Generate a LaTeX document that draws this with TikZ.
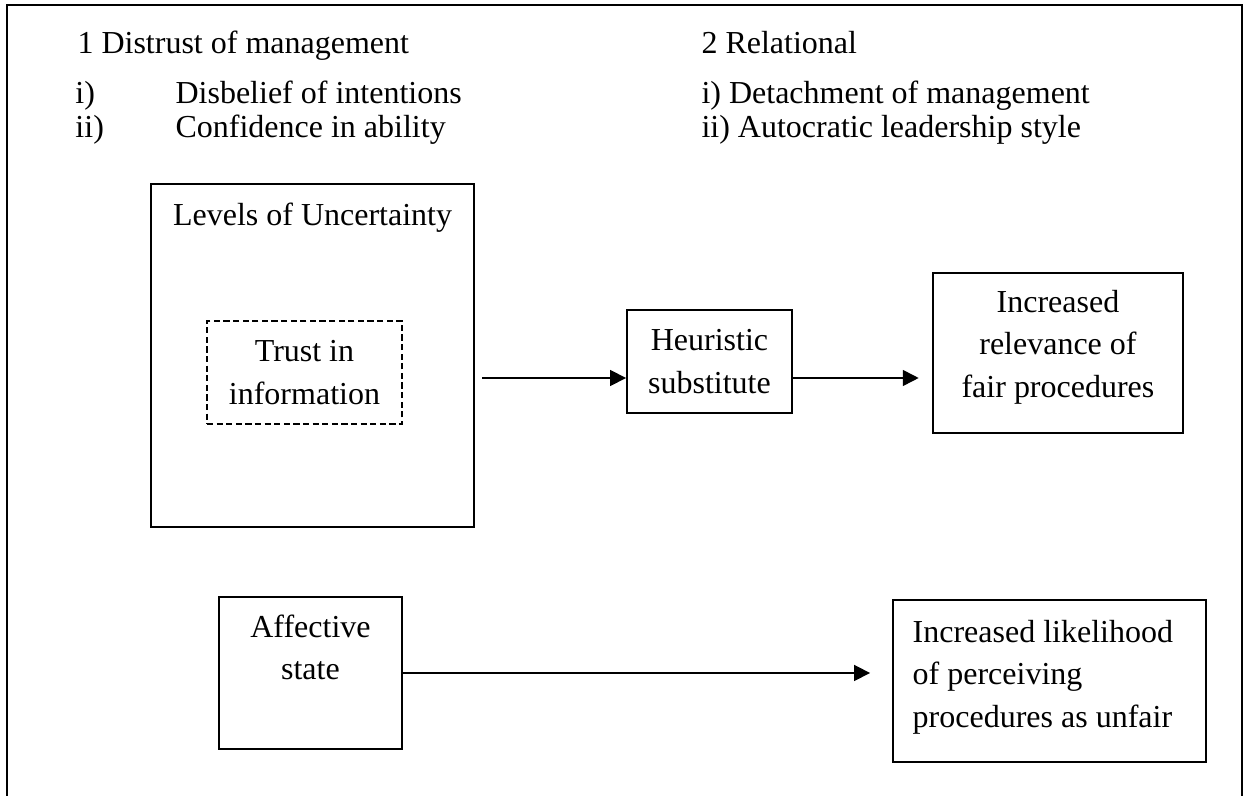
\documentclass[tikz,border=0pt]{standalone}
\usepackage{fontspec}
\setmainfont{Liberation Serif}
\usetikzlibrary{arrows.meta,positioning}
\tikzset{
    %Define standard arrow tip
    >={Triangle[length=6pt,width=5.8pt]},
    every node/.style={font=\fontsize{12}{16}\selectfont},
    %Define style for boxes
    kasten/.style={
           rectangle,
           draw=black, line width=0.6pt,
           align=center,
           inner sep=0pt},
    dashkasten/.style={
           kasten,
           dash pattern=on 2.3pt off 1.3pt},
    %plain text lines
    txt/.style={
           inner sep=0pt,
           anchor=base west},
    % Define arrow style
    pil/.style={
           ->,
           line width=1.1pt}
}
\begin{document}
\begin{tikzpicture}
\useasboundingbox (0,0) rectangle (16.475,-10.491);

%outer frame, open at the bottom
\draw[line width=0.75pt] (0.092,-10.6) -- (0.092,-0.066) -- (16.37,-0.066) -- (16.37,-10.6);

%headings
\node[txt] (distrust) at (1.015,-0.699) {1 Distrust of management};
\node[txt] (rom1) at (0.988,-1.358) {i)};
\node[txt] (disbelief) at (2.307,-1.358) {Disbelief of intentions};
\node[txt] (rom2) at (0.988,-1.806) {ii)};
\node[txt] (confidence) at (2.307,-1.806) {Confidence in ability};
\node[txt] (relational) at (9.239,-0.699) {2 Relational};
\node[txt] (detach) at (9.239,-1.358) {i) Detachment of management};
\node[txt] (autocratic) at (9.239,-1.806) {ii) Autocratic leadership style};

%levels of uncertainty
\node[kasten, minimum width=4.257cm, minimum height=4.52cm] (levels) at (4.12,-4.685) {};
\node[inner sep=0pt, below=7.1pt of levels.north] (levelstxt) {Levels of Uncertainty};
\node[dashkasten, minimum width=2.57cm, minimum height=1.357cm] (trust) at (4.013,-4.909) {Trust in\\information};

%heuristic substitute, arrow in and out
\node[kasten, minimum width=2.175cm, minimum height=1.357cm] (heuristic) at (9.351,-4.764) {Heuristic\\substitute};
\node[kasten, minimum width=3.295cm, minimum height=2.109cm] (relevance) at (13.944,-4.652) {};
\node[inner sep=0pt, align=center, yshift=2.2pt] (relevtxt) at (relevance) {Increased\\relevance of\\fair procedures};
\coordinate (flow) at (6.353,-4.982);
\draw[pil] (flow) -- (flow -| heuristic.west);
\draw[pil, shorten >=5pt] (flow -| heuristic.east) -- (flow -| relevance.west);

%affective state
\node[kasten, minimum width=2.412cm, minimum height=2.003cm] (affective) at (4.092,-8.870) {};
\node[inner sep=0pt, align=center, below=6.75pt of affective.north] (affecttxt) {Affective\\state};
\node[kasten, minimum width=4.125cm, minimum height=2.135cm] (likelihood) at (13.832,-8.976) {};
\node[inner sep=0pt, align=left, anchor=west, xshift=7.5pt, yshift=1.5pt] (liketxt) at (likelihood.west) {Increased likelihood\\of perceiving\\procedures as unfair};
\draw[pil, shorten >=8.25pt] (affective.east) -- (affective.east -| likelihood.west);
\end{tikzpicture}
\end{document}
